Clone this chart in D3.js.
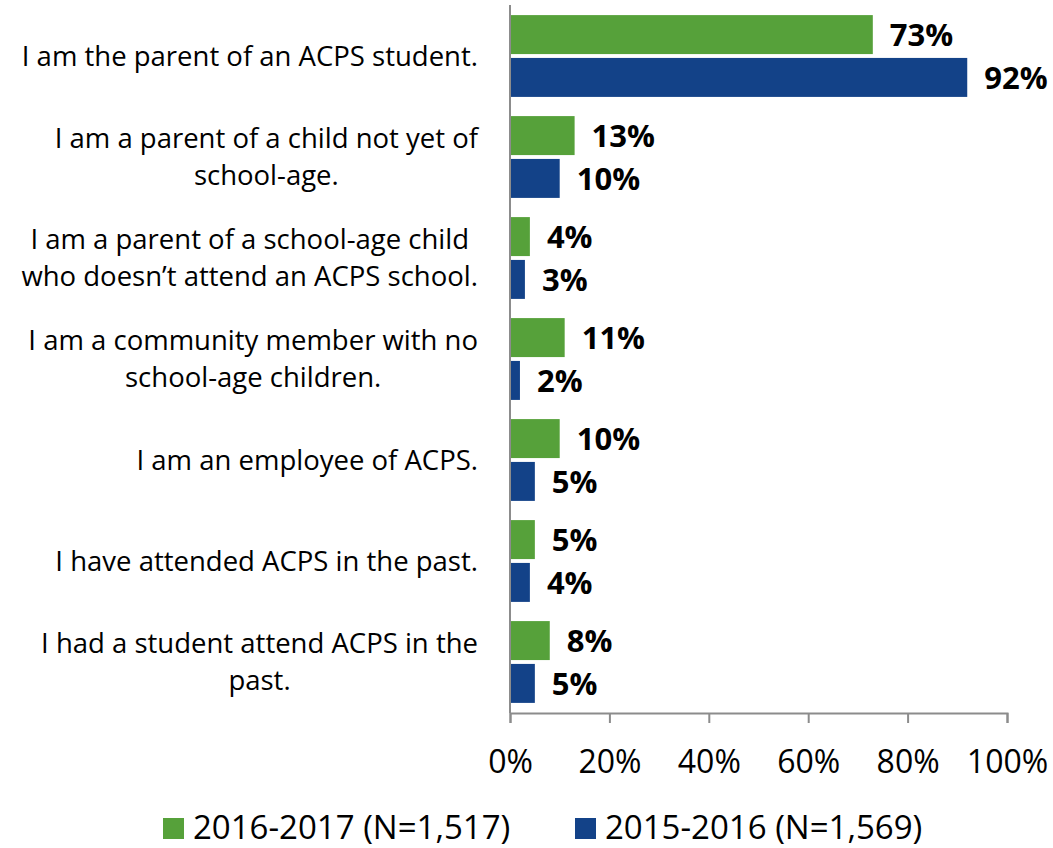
<!DOCTYPE html>
<html>
<head>
<meta charset="utf-8">
<script src="https://cdn.jsdelivr.net/npm/d3@7"></script>
<style>
  body { margin: 0; background: #fff; }
  text { font-family: "Open Sans", sans-serif; fill: #000; }
</style>
</head>
<body>
<div id="chart"></div>
<script>
// Chart data
var categories = [
  "I am the parent of an ACPS student.",
  "I am a parent of a child not yet of\nschool-age.",
  "I am a parent of a school-age child\nwho doesn\u2019t attend an ACPS school.",
  "I am a community member with no\nschool-age children.",
  "I am an employee of ACPS.",
  "I have attended ACPS in the past.",
  "I had a student attend ACPS in the\npast."
];
var seriesNames = ["2016-2017 (N=1,517)", "2015-2016 (N=1,569)"];
var values2016 = [73, 13, 4, 11, 10, 5, 8];
var values2015 = [92, 10, 3, 2, 5, 4, 5];
var xTicks = [0, 20, 40, 60, 80, 100];
var colors = ["#56a13a", "#134288"];

var W = 1053, H = 848;
var plot = {left: 510, right: 1007, top: 5, bottom: 713};

var svg = d3.select("#chart").append("svg")
  .attr("width", W)
  .attr("height", H);

var x = d3.scaleLinear().domain([0, 100]).range([plot.left, plot.right]);
var y = d3.scaleBand().domain(d3.range(categories.length))
  .range([plot.top, plot.bottom])
  .paddingInner(0.19)
  .paddingOuter(0.1);
var ySub = d3.scaleBand().domain([0, 1]).range([0, y.bandwidth()]).paddingInner(0.09);

var rows = categories.map(function(c, i) {
  return {label: c, vals: [values2016[i], values2015[i]]};
});

// Bars
var groups = svg.selectAll("g.row").data(rows).enter().append("g")
  .attr("class", "row")
  .attr("transform", function(d, i) { return "translate(0," + y(i) + ")"; });

groups.selectAll("rect").data(function(d) { return d.vals; }).enter().append("rect")
  .attr("x", x(0))
  .attr("y", function(d, j) { return ySub(j); })
  .attr("width", function(d) { return x(d) - x(0); })
  .attr("height", ySub.bandwidth())
  .attr("fill", function(d, j) { return colors[j]; });

groups.selectAll("text.val").data(function(d) { return d.vals; }).enter().append("text")
  .attr("class", "val")
  .attr("x", function(d) { return x(d) + 17; })
  .attr("y", function(d, j) { return ySub(j) + ySub.bandwidth() / 2; })
  .attr("dy", "0.36em")
  .style("font-size", "31px")
  .style("font-weight", "bold")
  .text(function(d) { return d + "%"; });

// Category labels: lines centred on each other, widest line ends at labelRight
var catSize = 27.5, labelRight = 478, lh = 37;
groups.each(function(d) {
  var g = d3.select(this);
  var lines = d.label.split("\n");
  var y0 = y.bandwidth() / 2 + 0.36 * catSize - (lines.length - 1) * lh / 2;
  var texts = lines.map(function(l, k) {
    return g.append("text")
      .attr("text-anchor", "middle")
      .attr("y", y0 + k * lh)
      .style("font-size", catSize + "px")
      .text(l);
  });
  var maxW = d3.max(texts, function(t) { return t.node().getComputedTextLength(); });
  texts.forEach(function(t) { t.attr("x", labelRight - maxW / 2); });
});

// Axes
var axisColor = "#8c8c8c";
svg.append("line")
  .attr("x1", x(0)).attr("x2", x(0))
  .attr("y1", plot.top).attr("y2", plot.bottom)
  .attr("stroke", axisColor).attr("stroke-width", 2);

var xAxis = svg.append("g")
  .attr("transform", "translate(0," + plot.bottom + ")")
  .call(d3.axisBottom(x).tickValues(xTicks).tickSize(10).tickPadding(0)
    .tickFormat(function(d) { return d + "%"; }));
xAxis.select(".domain").attr("stroke", axisColor).attr("stroke-width", 2);
xAxis.selectAll(".tick line").attr("stroke", axisColor).attr("stroke-width", 2);
xAxis.selectAll(".tick text")
  .attr("y", 60)
  .attr("dy", 0)
  .style("font-size", "32px")
  .style("font-family", "'Open Sans', sans-serif")
  .attr("fill", "#000");

// Legend
var legendX = [163, 575];
var legend = svg.selectAll("g.legend").data(seriesNames).enter().append("g")
  .attr("class", "legend")
  .attr("transform", function(d, i) { return "translate(" + legendX[i] + ",818)"; });
legend.append("rect")
  .attr("width", 21).attr("height", 21)
  .attr("fill", function(d, i) { return colors[i]; });
legend.append("text")
  .attr("x", 30).attr("y", 21)
  .style("font-size", "33px")
  .text(function(d) { return d; });
</script>
</body>
</html>
